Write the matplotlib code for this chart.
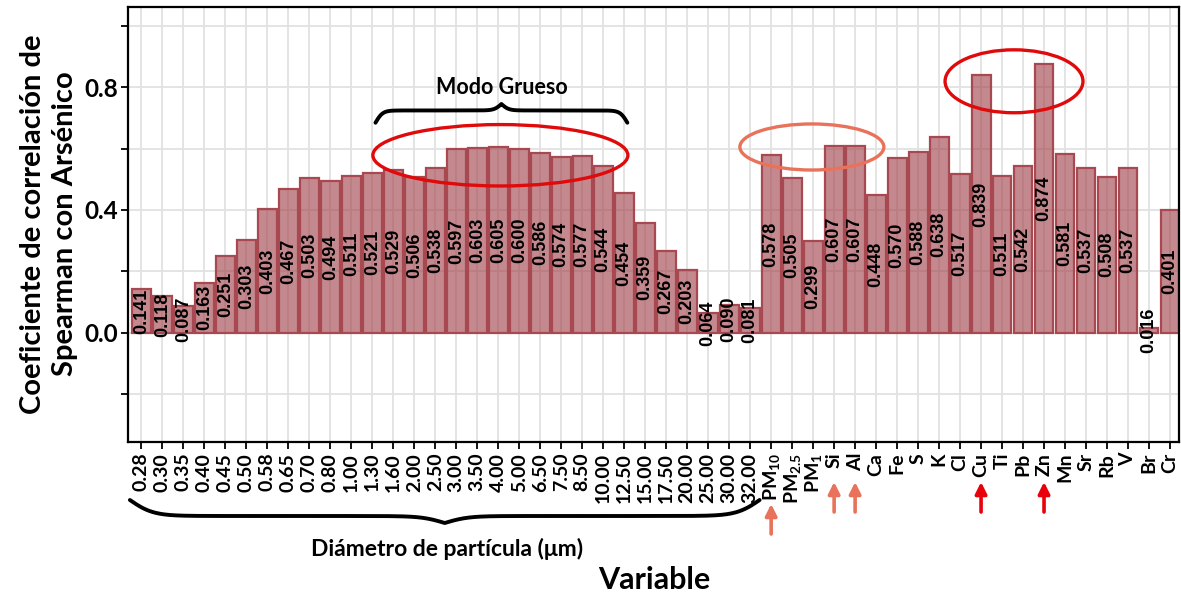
import numpy as np
import matplotlib
matplotlib.use("Agg")
import matplotlib.pyplot as plt
from matplotlib.patches import Ellipse
import matplotlib.transforms as mtransforms

# ---------------- data ----------------
size_bins = ["0.28", "0.30", "0.35", "0.40", "0.45", "0.50", "0.58", "0.65", "0.70", "0.80",
             "1.00", "1.30", "1.60", "2.00", "2.50", "3.00", "3.50", "4.00", "5.00", "6.50",
             "7.50", "8.50", "10.00", "12.50", "15.00", "17.50", "20.00", "25.00", "30.00", "32.00"]
size_values = [0.141, 0.118, 0.087, 0.163, 0.251, 0.303, 0.403, 0.467, 0.503, 0.494,
               0.511, 0.521, 0.529, 0.506, 0.538, 0.597, 0.603, 0.605, 0.600, 0.586,
               0.574, 0.577, 0.544, 0.454, 0.359, 0.267, 0.203, 0.064, 0.090, 0.081]
element_labels = ["PM$_{10}$", "PM$_{2.5}$", "PM$_{1}$", "Si", "Al", "Ca", "Fe", "S", "K", "Cl",
                  "Cu", "Ti", "Pb", "Zn", "Mn", "Sr", "Rb", "V", "Br", "Cr"]
element_values = [0.578, 0.505, 0.299, 0.607, 0.607, 0.448, 0.570, 0.588, 0.638, 0.517,
                  0.839, 0.511, 0.542, 0.874, 0.581, 0.537, 0.508, 0.537, 0.016, 0.401]

categories = size_bins + element_labels
values = size_values + element_values

y_ticks = [-0.2, 0.0, 0.2, 0.4, 0.6, 0.8, 1.0]
y_tick_labels = ["", "0.0", "", "0.4", "", "0.8", ""]

arrow_light = ["PM$_{10}$", "Si", "Al"]
arrow_dark = ["Cu", "Zn"]

# ---------------- style ----------------
W, H = 1181, 598
plt.rcParams["font.family"] = ["Lato", "DejaVu Sans"]
plt.rcParams["font.weight"] = "bold"
plt.rcParams["mathtext.default"] = "regular"

fig = plt.figure(figsize=(W / 100, H / 100), dpi=100)
ax = fig.add_axes([128 / W, 1 - 441.7 / H, (1179 - 128) / W, (441.7 - 7.3) / H])

x = np.arange(len(categories))
ax.bar(x, values, width=0.9, facecolor=(158 / 255, 58 / 255, 67 / 255, 0.6),
       edgecolor="#a84850", linewidth=1.6, zorder=2)

for xi, v in zip(x, values):
    ax.text(xi, v / 2, f"{v:.3f}", rotation=90, ha="center", va="center",
            fontsize=13, fontweight="bold", family=["Liberation Sans", "DejaVu Sans"],
            color="black", zorder=3)

ax.set_xlim(-0.64, len(categories) - 0.57)
ax.set_ylim(-0.355, 1.06)
ax.set_xticks(x)
ax.set_xticklabels(categories, rotation=90, fontsize=14, fontweight="bold")
ax.set_yticks(y_ticks)
ax.set_yticklabels(y_tick_labels, fontsize=17.5, fontweight="bold")
ax.tick_params(axis="both", length=5, width=1.3, color="black", pad=2)
ax.tick_params(axis="x", pad=3)

ax.set_axisbelow(True)
ax.grid(True, color="#e2e2e2", linewidth=1.3)
for sp in ax.spines.values():
    sp.set_linewidth(1.6)
    sp.set_color("black")

# axis titles
fig.text(49 / W, 1 - 224 / H, "Coeficiente de correlación de\nSpearman con Arsénico",
         rotation=90, ha="center", va="center", multialignment="center",
         fontsize=21, fontweight="bold", linespacing=1.3)
fig.text(654 / W, 1 - 580 / H, "Variable", ha="center", va="center",
         fontsize=22, fontweight="bold")


# ---------------- annotations ----------------
def brace_curve(x0, x1, y_end, y_plat, y_tip, beta=35, n=600):
    u = np.linspace(0, 1, n // 2)
    f = 1 / (1 + np.exp(-beta * u)) + 1 / (1 + np.exp(-beta * (u - 1)))
    s = f - f[0]
    s = s / s[-1]
    s = np.where(s <= 0.5, s / 0.5 * (y_plat - y_end),
                 (y_plat - y_end) + (s - 0.5) / 0.5 * (y_tip - y_plat))
    xm = (x0 + x1) / 2
    xl = x0 + u * (xm - x0)
    xr = x1 - u * (x1 - xm)
    xs = np.concatenate([xl, xr[::-1]])
    ys = y_end + np.concatenate([s, s[::-1]])
    return xs, ys


idx = {c: i for i, c in enumerate(categories)}

# upper brace "Modo Grueso"
bx, by = brace_curve(idx["1.30"] + 0.15, idx["12.50"] + 0.15, 0.684, 0.724, 0.745, beta=35)
ax.plot(bx, by, color="black", lw=2.8, solid_capstyle="round", clip_on=False, zorder=5)
ax.text((idx["1.30"] + idx["12.50"]) / 2 + 0.15, 0.800, "Modo Grueso", ha="center", va="center",
        fontsize=15.5, fontweight="bold", zorder=5)

# ellipses
ell_specs = [
    (17.1, 0.578, 12.15, 0.20, "#e00a0a"),
    (31.94, 0.605, 6.86, 0.15, "#e8735a"),
    (41.57, 0.819, 6.57, 0.205, "#e00a0a"),
]
for cx, cy, ew, eh, col in ell_specs:
    ax.add_patch(Ellipse((cx, cy), ew, eh, fill=False, edgecolor=col, lw=2.4,
                         zorder=6, clip_on=False))

# lower brace (figure pixel y)
blend = mtransforms.blended_transform_factory(ax.transData, fig.transFigure)
lx, ly = brace_curve(-0.55, 29.45, 500, 516, 523, beta=27)
ax.plot(lx, 1 - ly / H, color="black", lw=2.8, solid_capstyle="round",
        transform=blend, clip_on=False, zorder=5)
fig.text(447 / W, 1 - 549 / H, "Diámetro de partícula (μm)", ha="center", va="center",
         fontsize=16.5, fontweight="bold")

# arrows
for lab, col, y_head, y_tail in ([(l, "#e8735a", 482, 512) for l in arrow_light[1:]] +
                                 [(arrow_light[0], "#e8735a", 504, 534)] +
                                 [(l, "#e8000b", 482, 512) for l in arrow_dark]):
    ax.annotate("", xy=(idx[lab], H - y_head), xytext=(idx[lab], H - y_tail),
                xycoords=("data", "figure pixels"), textcoords=("data", "figure pixels"),
                arrowprops=dict(arrowstyle="-|>", color=col, lw=2.6, mutation_scale=17,
                                shrinkA=0, shrinkB=0),
                annotation_clip=False)

fig.savefig("out.png", dpi=100)
